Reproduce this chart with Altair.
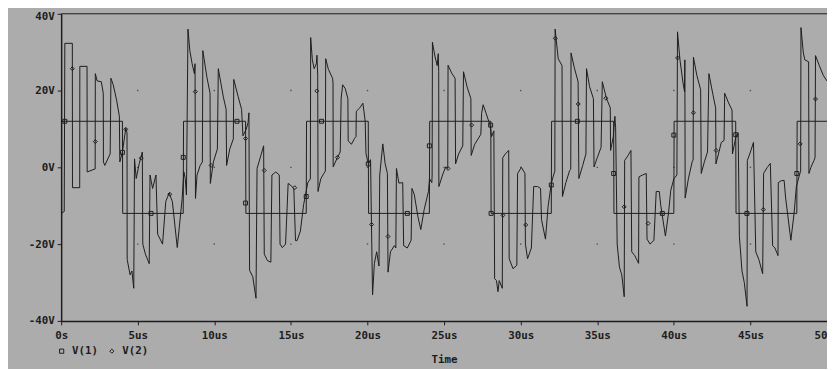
import altair as alt
import pandas as pd

# ---------------- data ----------------
X_MAX = 50.0
X_TICKS = [0, 5, 10, 15, 20, 25, 30, 35, 40, 45, 50]
Y_TICKS = [-40, -20, 0, 20, 40]
GRID_X = [5, 10, 15, 20, 25, 30, 35, 40, 45]
GRID_Y = [-20, 0, 20]

# V(1): square wave, switching instants (us) and its two levels (V)
V1_EDGES = [0.0, 4.0, 7.97, 12.04, 16.0, 20.05, 24.04, 28.05, 32.0, 36.07, 40.0, 44.04, 48.03]
V1_LOW, V1_HIGH = -12.0, 12.0

# V(2): vertices (time us, volts), one list per 8us cycle
V2_C1 = [(0.00, -12), (0.20, -11.5), (0.24, 32.3), (0.73, 32.3), (0.74, -5.3), (1.21, -5.3),
         (1.22, 26.3), (1.69, 26.3), (1.70, -1.2), (2.22, -0.4), (2.23, 24.4), (2.35, 22.5),
         (2.62, 22.3), (2.75, 19.3), (2.76, 1.4), (2.85, 0.5), (3.20, 3.5), (3.25, 23.2),
         (3.40, 21.5), (3.62, 17.5), (3.80, 13.3), (3.83, 1.4), (4.00, 4.0), (4.22, 10.2),
         (4.30, 9.0), (4.31, -24.0), (4.50, -28.0), (4.62, -27.0), (4.74, -31.5), (4.79, 2.2),
         (4.90, -2.9), (5.10, 1.0), (5.30, 4.0), (5.33, -20.0), (5.50, -22.6), (5.75, -25.1),
         (5.80, -2.0), (5.97, -5.5), (6.19, -2.0), (6.30, -17.4), (6.62, -20.0), (6.83, -8.9),
         (7.05, -6.7), (7.26, -8.9), (7.58, -20.9), (7.90, -8.1)]
V2_C2 = [(8.01, -1.2), (8.10, -2.9), (8.18, -7.2), (8.28, 36.0), (8.40, 30.4), (8.55, 27.0),
         (8.70, 24.4), (8.74, 27.0), (8.77, -8.1), (8.87, -2.0), (9.08, 0.5), (9.22, 1.4),
         (9.25, 30.4), (9.51, 23.6), (9.72, 19.3), (9.74, -4.2), (9.94, 1.4), (10.20, 4.8),
         (10.26, 25.7), (10.58, 18.5), (10.77, 15.1), (10.80, 0.5), (11.01, 4.8), (11.24, 7.4),
         (11.27, 22.9), (11.55, 18.5), (11.78, 15.1), (11.87, 8.2), (12.08, 9.9), (12.20, 11.6),
         (12.26, 14.2), (12.30, -26.8), (12.51, -28.5), (12.72, -34.1), (12.79, -0.3),
         (13.04, 3.1), (13.22, 5.6), (13.26, -22.6), (13.47, -24.3), (13.69, -24.7),
         (13.76, -2.0), (14.01, -1.2), (14.24, -2.0), (14.29, -20.0), (14.44, -20.9),
         (14.65, -20.0), (14.82, -4.2), (14.97, -4.6), (15.19, -5.5), (15.30, -19.1),
         (15.40, -19.1), (15.62, -16.6), (15.83, -9.7), (15.94, -7.5)]
V2_C3 = [(16.10, -4.0), (16.27, -3.0), (16.29, 33.8), (16.40, 28.0), (16.52, 25.7), (16.66, 27.0),
         (16.70, 29.2), (16.75, 24.0), (16.77, -6.3), (16.95, -3.0), (17.15, -1.6), (17.25, -1.0),
         (17.27, 28.3), (17.45, 25.5), (17.72, 23.2), (17.75, 22.0), (17.76, 0.1), (18.04, 2.6),
         (18.22, 4.0), (18.28, 18.0), (18.38, 21.5), (18.55, 20.5), (18.72, 17.9), (18.74, 6.9),
         (18.95, 6.0), (19.15, 7.5), (19.25, 8.0), (19.27, 14.6), (19.50, 15.5), (19.70, 16.7),
         (19.85, 12.0), (19.90, 3.6), (20.05, 1.0), (20.20, 2.0), (20.26, -14.9), (20.33, -33.2),
         (20.45, -25.0), (20.60, -22.0), (20.75, -25.7), (20.80, -2.0), (21.00, 6.1),
         (21.15, 1.0), (21.30, -1.6), (21.34, -27.3), (21.50, -22.0), (21.75, -20.4),
         (21.85, -21.0), (21.89, -0.3), (22.05, -4.1), (22.30, -4.0), (22.36, -20.4),
         (22.60, -21.0), (22.85, -19.0), (22.90, -5.5), (23.05, -7.0), (23.30, -13.0),
         (23.48, -16.2), (23.70, -11.0), (23.98, -6.3), (24.05, -3.0), (24.20, -4.0)]
V2_C4 = [(24.22, -2.0), (24.24, 32.6), (24.40, 29.0), (24.55, 26.5), (24.62, 29.6), (24.65, 25.0),
         (24.66, -5.0), (24.90, -2.0), (25.10, 0.1), (25.24, -0.3), (25.26, 26.6), (25.50, 24.5),
         (25.72, 23.2), (25.75, 0.9), (25.95, 3.5), (26.22, 5.6), (26.27, 24.9), (26.50, 21.0),
         (26.75, 17.9), (26.77, 3.1), (27.00, 6.0), (27.40, 8.6), (27.45, 14.0), (27.55, 16.3),
         (27.75, 14.0), (28.00, 11.0), (28.10, 8.0), (28.25, 9.5), (28.30, -29.0), (28.42, -29.5),
         (28.52, -32.4), (28.60, -29.5), (28.80, -31.5), (28.83, 2.5), (29.00, 3.5),
         (29.22, 4.4), (29.25, -23.8), (29.50, -26.4), (29.75, -25.5), (29.80, -1.6),
         (30.05, 0.0), (30.28, -1.6), (30.31, -20.0), (30.45, -23.8), (30.70, -21.0),
         (30.85, -5.0), (31.10, -5.0), (31.30, -5.5), (31.36, -13.6), (31.62, -18.7),
         (31.79, -10.2), (32.00, -4.2), (32.15, -2.0), (32.23, -1.0)]
V2_C5 = [(32.25, 36.0), (32.45, 28.3), (32.70, 26.5), (32.73, -7.6), (32.95, -4.0), (33.20, -0.8),
         (33.27, -0.5), (33.29, 29.8), (33.50, 26.0), (33.75, 22.3), (33.80, -2.9), (34.05, 0.5),
         (34.26, 3.5), (34.30, 25.7), (34.50, 21.0), (34.75, 17.9), (34.79, 0.1), (35.00, 2.5),
         (35.25, 5.2), (35.33, 22.3), (35.60, 18.0), (35.85, 15.5), (35.87, 4.4), (36.05, 8.0),
         (36.15, 13.3), (36.20, 10.3), (36.30, -20.0), (36.45, -26.0), (36.60, -28.0),
         (36.76, -33.7), (36.79, 1.8), (37.00, 3.0), (37.20, 4.4), (37.25, -22.0),
         (37.45, -23.0), (37.70, -25.0), (37.72, -2.5), (37.95, -2.0), (38.20, -1.6),
         (38.25, -18.7), (38.45, -20.0), (38.70, -19.0), (38.85, -6.3), (39.05, -6.3),
         (39.15, -10.0), (39.45, -17.9), (39.65, -12.0), (39.80, -6.0), (40.00, -3.0),
         (40.20, -2.0)]
V2_C6 = [(40.24, 35.3), (40.40, 28.0), (40.60, 22.0), (40.70, 19.7), (40.72, 28.0), (40.74, -8.0),
         (40.95, -3.0), (41.20, 1.5), (41.26, 2.0), (41.28, 28.7), (41.50, 24.0), (41.75, 20.2),
         (41.79, -1.6), (42.00, 1.5), (42.20, 4.0), (42.29, 24.4), (42.55, 19.0), (42.73, 15.5),
         (42.75, 0.9), (43.10, 6.5), (43.28, 7.0), (43.32, 19.3), (43.55, 17.0), (43.80, 14.9),
         (43.83, 3.5), (44.00, 7.0), (44.10, 8.6), (44.20, 9.0), (44.28, -18.0), (44.45, -27.0),
         (44.60, -30.0), (44.78, -36.2), (44.80, 1.8), (45.00, 4.0), (45.20, 6.5),
         (45.35, -22.0), (45.55, -24.0), (45.80, -27.7), (45.86, -1.6), (46.10, 0.0),
         (46.30, 1.0), (46.45, -20.4), (46.60, -21.0), (46.80, -23.0), (46.82, -4.0),
         (47.00, -3.5), (47.20, -3.4), (47.30, -8.0), (47.64, -19.0), (47.85, -12.0),
         (48.00, -5.0), (48.20, -2.0)]
V2_C7 = [(48.28, -1.0), (48.30, 36.4), (48.45, 30.0), (48.55, 28.0), (48.80, 27.5), (48.82, -1.6),
         (48.95, 0.0), (49.15, 1.8), (49.22, 2.5), (49.25, 29.1), (49.50, 26.5), (49.75, 24.0),
         (50.00, 22.5)]

# trace markers (time us, volts)
V1_MARK_T = [0.24, 4.0, 5.87, 7.97, 11.48, 12.04, 16.0, 17.0, 20.05, 22.6, 24.04, 28.04, 28.07,
             32.0, 33.7, 36.07, 39.25, 40.0, 44.04, 44.77, 48.03]
V1_MARK_V = [12, 3.9, -12, 2.6, 12, -9.3, -7.6, 12, 0.9, -12, 5.6, 11, -12,
             -4.6, 12, -1.6, -12, 8.4, 8.5, -12, -1.6]
V2_MARK_T = [0.73, 2.23, 4.22, 5.23, 7.09, 8.76, 9.79, 12.04, 13.26, 15.25, 16.69, 18.04, 20.27,
             21.34, 25.26, 26.8, 28.84, 30.33, 32.26, 33.76, 35.56, 36.76, 38.32, 40.25, 41.28,
             42.76, 45.84, 48.25, 49.25]
V2_MARK_V = [25.7, 6.7, 9.9, 2.4, -7.0, 19.7, 0.5, 7.5, -0.8, -5.3, 19.9, 2.6, -14.9,
             -18.0, -0.3, 11.0, -12.5, -15.0, 33.6, 16.5, 18.0, -10.3, -14.6, 28.5, 14.2,
             4.4, -11.0, 6.1, 17.8]

# ---------------- tables ----------------
v1_pts = [(0.0, V1_LOW)]
level = V1_LOW
for t in V1_EDGES:
    v1_pts.append((t, level))
    level = V1_HIGH if level == V1_LOW else V1_LOW
    v1_pts.append((t + 0.02, level))
v1_pts.append((X_MAX, level))
v1_df = pd.DataFrame(v1_pts, columns=["t", "v"])
v1_df["i"] = range(len(v1_df))

v2_pts = V2_C1 + V2_C2 + V2_C3 + V2_C4 + V2_C5 + V2_C6 + V2_C7
v2_df = pd.DataFrame(v2_pts, columns=["t", "v"])
v2_df["i"] = range(len(v2_df))

marks_df = pd.concat([
    pd.DataFrame({"t": V1_MARK_T, "v": V1_MARK_V, "series": "V(1)"}),
    pd.DataFrame({"t": V2_MARK_T, "v": V2_MARK_V, "series": "V(2)"}),
], ignore_index=True)

grid_df = pd.DataFrame([(gx, gy) for gx in GRID_X for gy in GRID_Y], columns=["t", "v"])

# ---------------- styling ----------------
BG = "#acacac"
INK = "#1c1c1c"
FONT = "DejaVu Sans Mono"

xscale = alt.Scale(domain=[0, X_MAX], nice=False, zero=False)
yscale = alt.Scale(domain=[-40, 40], nice=False, zero=False)
x_axis = alt.Axis(values=X_TICKS, labelExpr="datum.value == 0 ? '0s' : datum.value + 'us'",
                  title="Time", labelFlush=False, labelOverlap=False, labelBound=False,
                  labelPadding=5, titleX=389, titleY=33, titleBaseline="top", titleAlign="center")
y_axis = alt.Axis(values=Y_TICKS, labelExpr="datum.value + 'V'", title=None, labelPadding=3,
                  labelOffset={"condition": {"test": "datum.value == 40", "value": 3}, "value": 0})

X = alt.X("t:Q", scale=xscale, axis=x_axis)
Y = alt.Y("v:Q", scale=yscale, axis=y_axis)

grid = alt.Chart(grid_df).mark_square(size=2, color="#3a3a3a", opacity=0.8).encode(x=X, y=Y)

v1 = alt.Chart(v1_df).mark_line(color=INK, strokeWidth=1, clip=True).encode(
    x=X, y=Y, order=alt.Order("i:Q"))
v2 = alt.Chart(v2_df).mark_line(color=INK, strokeWidth=1, clip=True).encode(
    x=X, y=Y, order=alt.Order("i:Q"))

top = alt.Chart(pd.DataFrame({"a": [0]})).mark_rule(color=INK, strokeWidth=1).encode(
    x=alt.datum(0), x2=alt.datum(X_MAX), y=alt.datum(40))

markers = alt.Chart(marks_df).mark_point(filled=False, color=INK, strokeWidth=1,
                                         size=16, opacity=1).encode(
    x=X, y=Y,
    shape=alt.Shape("series:N",
                    scale=alt.Scale(domain=["V(1)", "V(2)"], range=["square", "diamond"]),
                    legend=alt.Legend(orient="none", legendX=-5, legendY=337, direction="horizontal",
                                      title=None, labelFont=FONT, labelFontSize=11,
                                      labelFontWeight="bold", labelColor=INK,
                                      symbolSize=18, symbolStrokeWidth=1, symbolStrokeColor=INK,
                                      symbolFillColor="transparent", symbolOpacity=1,
                                      columnPadding=8, labelOffset=5, padding=0)),
)

chart = alt.layer(grid, v1, v2, top, markers).properties(
    width=778, height=312,
    padding={"left": 54, "top": 3, "right": 0, "bottom": 46},
    autosize=alt.AutoSizeParams(type="none"),
    background=BG,
).configure_view(stroke=None).configure_axis(
    domainColor=INK, domainWidth=1.5, tickColor=INK, tickSize=4, tickWidth=1,
    labelFont=FONT, labelFontSize=11, labelFontWeight="bold", labelColor=INK,
    titleFont=FONT, titleFontSize=11, titleFontWeight="bold", titleColor=INK,
    grid=False,
)

chart.save("out.html", embed_options={"renderer": "svg", "actions": False})
